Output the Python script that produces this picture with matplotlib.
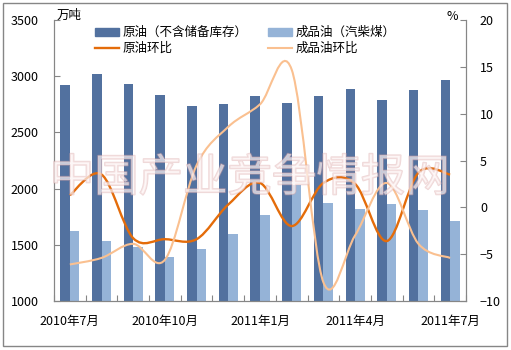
import numpy as np
import matplotlib
matplotlib.use('Agg')
import matplotlib.pyplot as plt
from matplotlib.path import Path
from matplotlib.patches import PathPatch, Rectangle
from matplotlib.lines import Line2D
import matplotlib.patheffects as pe

plt.rcParams['font.family'] = ['Noto Sans CJK SC', 'DejaVu Sans']

# datos
meses = ['2010年7月', '2010年8月', '2010年9月', '2010年10月', '2010年11月', '2010年12月',
         '2011年1月', '2011年2月', '2011年3月', '2011年4月', '2011年5月', '2011年6月', '2011年7月']
crudo = [2920, 3020, 2930, 2833, 2735, 2753, 2824, 2762, 2824, 2886, 2790, 2877, 2966]
refinado = [1623, 1534, 1483, 1394, 1463, 1596, 1765, 2032, 1869, 1818, 1860, 1810, 1712]
crudo_hb = [1.3, 3.5, -3.3, -3.4, -3.4, 0.3, 2.6, -2.0, 2.6, 2.5, -3.6, 3.7, 3.5]
refinado_hb = [-6.1, -5.4, -3.9, -5.6, 4.5, 8.6, 11.0, 14.7, -8.0, -3.0, 2.6, -3.9, -5.4]

c_osc = '#52719f'
c_cla = '#95b3d7'
c_nar = '#e46c0a'
c_nar2 = '#fac090'
c_eje = '#868686'


def curva_suave(x, y):
    # bezier al estilo excel (linea suavizada)
    px = np.concatenate([[x[0]], x, [x[-1]]])
    py = np.concatenate([[y[0]], y, [y[-1]]])
    verts = [(x[0], y[0])]
    codes = [Path.MOVETO]
    for i in range(1, len(px) - 2):
        c1 = (px[i] + (px[i + 1] - px[i - 1]) / 6, py[i] + (py[i + 1] - py[i - 1]) / 6)
        c2 = (px[i + 1] - (px[i + 2] - px[i]) / 6, py[i + 1] - (py[i + 2] - py[i]) / 6)
        verts += [c1, c2, (px[i + 1], py[i + 1])]
        codes += [Path.CURVE4] * 3
    return Path(verts, codes)


fig = plt.figure(figsize=(5.11, 3.5), dpi=100)
ax = fig.add_axes([54 / 511, 49 / 350, 412 / 511, 281 / 350])
ax2 = ax.twinx()

x = np.arange(len(meses))
w = 0.3
ax.bar(x - w / 2, crudo, w, color=c_osc, zorder=2)
ax.bar(x + w / 2, refinado, w, color=c_cla, zorder=2)
ax.set_ylim(1000, 3500)
ax.set_xlim(-0.5, len(meses) - 0.5)
ax.set_yticks(np.arange(1000, 3501, 500))

ax2.add_patch(PathPatch(curva_suave(x, np.array(crudo_hb, float)), fc='none', ec=c_nar, lw=1.7, zorder=3))
ax2.add_patch(PathPatch(curva_suave(x, np.array(refinado_hb, float)), fc='none', ec=c_nar2, lw=1.5, zorder=3))
ax2.set_ylim(-10, 20)
ax2.set_yticks(np.arange(-10, 21, 5))

ax.set_xticks(np.arange(-0.5, len(meses), 1), minor=False)
ax.set_xticklabels([])
ax.set_xticks(x[::3], minor=True)
ax.set_xticklabels([meses[i] for i in x[::3]], minor=True)
ax.tick_params(axis='x', which='major', direction='in', length=4, color=c_eje)
ax.tick_params(axis='x', which='minor', length=0, pad=10, labelsize=9)
ax.tick_params(axis='y', direction='in', length=4, color=c_eje, pad=11, labelsize=9)
ax2.tick_params(axis='y', direction='in', length=4, color=c_eje, pad=10, labelsize=9)

for a in (ax, ax2):
    a.spines['top'].set_visible(False)
    for s in ('left', 'right', 'bottom'):
        a.spines[s].set_color(c_eje)

hs = [Rectangle((0, 0), 1, 1, color=c_osc), Line2D([], [], color=c_nar, lw=1.7),
      Rectangle((0, 0), 1, 1, color=c_cla), Line2D([], [], color=c_nar2, lw=1.5)]
ls = ['原油（不含储备库存）', '原油环比', '成品油（汽柴煤）', '成品油环比']
ax2.legend(hs, ls, ncol=2, loc='upper left', bbox_to_anchor=(0.085, 1.0), frameon=False,
           fontsize=9, handlelength=1.9, handleheight=0.6, labelspacing=0.2,
           columnspacing=1.6, handletextpad=0.3, borderaxespad=0.1)

fig.text(57 / 511, 1 - 15 / 350, '万吨', fontsize=9, va='center', ha='left')
fig.text(452 / 511, 1 - 16 / 350, '%', fontsize=9, va='center', ha='center')

# marca de agua
fig.text(250 / 511, 1 - 178 / 350, '中国产业竞争情报网', fontsize=32, ha='center', va='center',
         color='#fdf4f4', alpha=0.45, zorder=10,
         path_effects=[pe.withStroke(linewidth=1.2, foreground='#dca8a8')])

fig.patches.append(Rectangle((3 / 511, 4 / 350), 504 / 511, 343 / 350, transform=fig.transFigure,
                             fill=False, ec=c_eje, lw=1))

fig.savefig('out.png', dpi=100)
